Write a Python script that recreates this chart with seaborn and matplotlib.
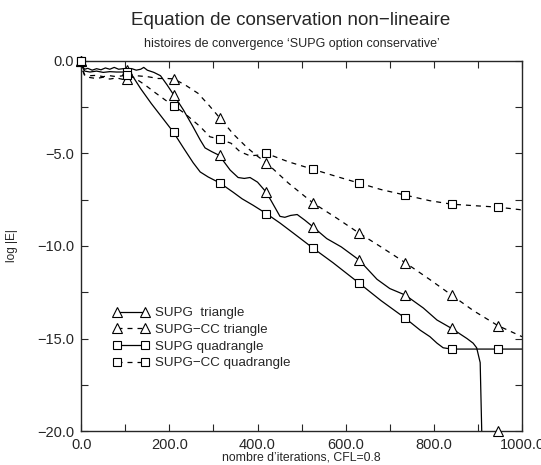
import numpy as np
import pandas as pd
import seaborn as sns
import matplotlib
matplotlib.use('Agg')
from matplotlib import pyplot as plt
from matplotlib.lines import Line2D
from matplotlib.ticker import MultipleLocator, FuncFormatter

# iterations where the symbols are drawn
x_mark = [0, 105, 210, 315, 420, 525, 630, 735, 840, 945]

# SUPG triangle (solid)
supg_tri_x = [0, 3, 8, 15, 25, 35, 45, 55, 65, 75, 85, 95, 105, 115, 125, 135, 142, 150, 165, 180,
              195, 210, 232, 254, 270, 281, 296, 313, 338, 356, 370, 383, 400, 420, 432, 451, 462,
              475, 490, 507, 525, 557, 590, 630, 671, 700, 735, 776, 807, 840, 875, 889, 897, 905, 909]
supg_tri_y = [0, -0.3, -0.45, -0.4, -0.5, -0.42, -0.48, -0.38, -0.45, -0.35, -0.45, -0.42, -0.5, -0.42,
              -0.5, -0.45, -0.35, -0.5, -0.62, -0.8, -1.3, -1.84, -2.65, -3.57, -4.27, -4.7, -4.9, -5.1,
              -5.9, -6.3, -6.35, -6.3, -6.55, -7.1, -7.6, -8.4, -8.45, -8.35, -8.3, -8.6, -8.95, -9.6,
              -10.05, -10.75, -11.8, -12.3, -12.65, -13.35, -14.0, -14.45, -15.0, -15.25, -15.5, -16.3, -20.5]
supg_tri_m = [0, -0.5, -1.84, -5.1, -7.1, -8.96, -10.75, -12.65, -14.45, -20.0]

# SUPG-CC triangle (dashed)
cc_tri_x = [0, 3, 8, 20, 35, 50, 65, 80, 95, 105, 125, 150, 175, 195, 210, 236, 265, 290, 315, 345,
            377, 400, 420, 470, 525, 580, 630, 680, 735, 790, 840, 890, 945, 1000]
cc_tri_y = [0, -0.45, -0.8, -0.9, -0.95, -0.88, -0.98, -0.92, -1.0, -0.97, -0.8, -0.85, -0.95, -0.95,
            -0.97, -1.3, -1.75, -2.4, -3.1, -3.95, -4.7, -5.15, -5.5, -6.6, -7.66, -8.5, -9.3, -10.05,
            -10.9, -11.8, -12.65, -13.5, -14.3, -14.9]
cc_tri_m = [0, -0.97, -0.97, -3.1, -5.5, -7.66, -9.3, -10.9, -12.65, -14.3]

# SUPG quadrangle (solid)
supg_quad_x = [0, 3, 8, 20, 35, 50, 65, 80, 95, 105, 113, 135, 159, 185, 209, 232, 254, 270, 288, 315,
               345, 365, 390, 420, 451, 481, 525, 571, 630, 680, 735, 769, 791, 807, 821, 840, 1000]
supg_quad_y = [0, -0.35, -0.55, -0.6, -0.55, -0.62, -0.58, -0.6, -0.6, -0.6, -0.68, -1.5, -2.3, -3.1,
               -3.84, -4.7, -5.5, -6.0, -6.27, -6.6, -7.1, -7.45, -7.8, -8.25, -8.76, -9.3, -10.1, -10.9,
               -12.0, -12.95, -13.9, -14.55, -14.9, -15.25, -15.5, -15.57, -15.57]
supg_quad_m = [0, -0.6, -3.84, -6.6, -8.25, -10.1, -12.0, -13.9, -15.57, -15.57]

# SUPG-CC quadrangle (dashed)
cc_quad_x = [0, 3, 8, 20, 35, 50, 65, 80, 95, 105, 120, 145, 167, 190, 210, 233, 270, 292, 315, 340,
             360, 383, 406, 420, 470, 525, 580, 630, 680, 735, 790, 840, 890, 945, 1000]
cc_quad_y = [0, -0.5, -0.75, -0.8, -0.78, -0.85, -0.8, -0.85, -0.8, -0.75, -0.9, -1.3, -1.7, -2.1,
             -2.43, -2.8, -3.55, -4.1, -4.23, -4.45, -4.9, -5.13, -5.08, -5.0, -5.45, -5.85, -6.25,
             -6.6, -6.95, -7.25, -7.55, -7.74, -7.82, -7.9, -8.05]
cc_quad_m = [0, -0.75, -2.43, -4.23, -5.0, -5.85, -6.6, -7.25, -7.74, -7.9]

labels = ['SUPG  triangle', 'SUPG\u2212CC triangle', 'SUPG quadrangle', 'SUPG\u2212CC quadrangle']

sns.set_style('ticks')
plt.rcParams['font.family'] = ['Liberation Sans', 'DejaVu Sans']

fig = plt.figure(figsize=(5.41, 4.65), dpi=100)
ax = fig.add_axes([0.150, 0.073, 0.815, 0.796])

dash = (0, (4, 4))
series = [
    (supg_tri_x, supg_tri_y, supg_tri_m, '^', 7, '-'),
    (cc_tri_x, cc_tri_y, cc_tri_m, '^', 7, dash),
    (supg_quad_x, supg_quad_y, supg_quad_m, 's', 6.3, '-'),
    (cc_quad_x, cc_quad_y, cc_quad_m, 's', 6.3, dash),
]

handles = []
for (cx, cy, cm, mk, ms, ls), lab in zip(series, labels):
    df = pd.DataFrame({'it': cx, 'err': cy})
    sns.lineplot(data=df, x='it', y='err', ax=ax, color='black', linewidth=0.9,
                 linestyle=ls, sort=False, estimator=None)
    ax.plot(x_mark, cm, linestyle='none', marker=mk, markersize=ms, markerfacecolor='white',
            markeredgecolor='black', markeredgewidth=0.8, clip_on=False, zorder=5)
    handles.append(Line2D([], [], color='black', linewidth=0.9, linestyle=ls, marker=mk,
                          markersize=ms, markerfacecolor='white', markeredgecolor='black',
                          markeredgewidth=0.8))

ax.set_xlim(0, 1000)
ax.set_ylim(-20, 0)
ax.xaxis.set_major_locator(MultipleLocator(200))
ax.xaxis.set_minor_locator(MultipleLocator(100))
ax.yaxis.set_major_locator(MultipleLocator(5))
ax.yaxis.set_minor_locator(MultipleLocator(2.5))
fmt = FuncFormatter(lambda v, p: ('%.1f' % v).replace('-', '\u2212'))
ax.xaxis.set_major_formatter(fmt)
ax.yaxis.set_major_formatter(fmt)
ax.tick_params(which='both', direction='in', top=True, right=True, length=5, width=0.8,
               labelsize=10.5, pad=5)
for sp in ax.spines.values():
    sp.set_linewidth(1.0)

ax.set_xlabel("nombre d\u2019iterations, CFL=0.8", fontsize=8.8, labelpad=0)
ax.set_ylabel('log |E|', fontsize=8.5, labelpad=14)

fig.text(0.538, 0.955, 'Equation de conservation non\u2212lineaire', ha='center', va='center', fontsize=13.5)
fig.text(0.54, 0.905, 'histoires de convergence \u2018SUPG option conservative\u2019', ha='center',
         va='center', fontsize=9)

ax.legend(handles, labels, loc='upper left', bbox_to_anchor=(0.073, 0.335), frameon=False,
          numpoints=2, handlelength=2.7, handletextpad=0.45, labelspacing=0.32, fontsize=9.6,
          borderaxespad=0, borderpad=0)

fig.savefig('out.png', dpi=100)
